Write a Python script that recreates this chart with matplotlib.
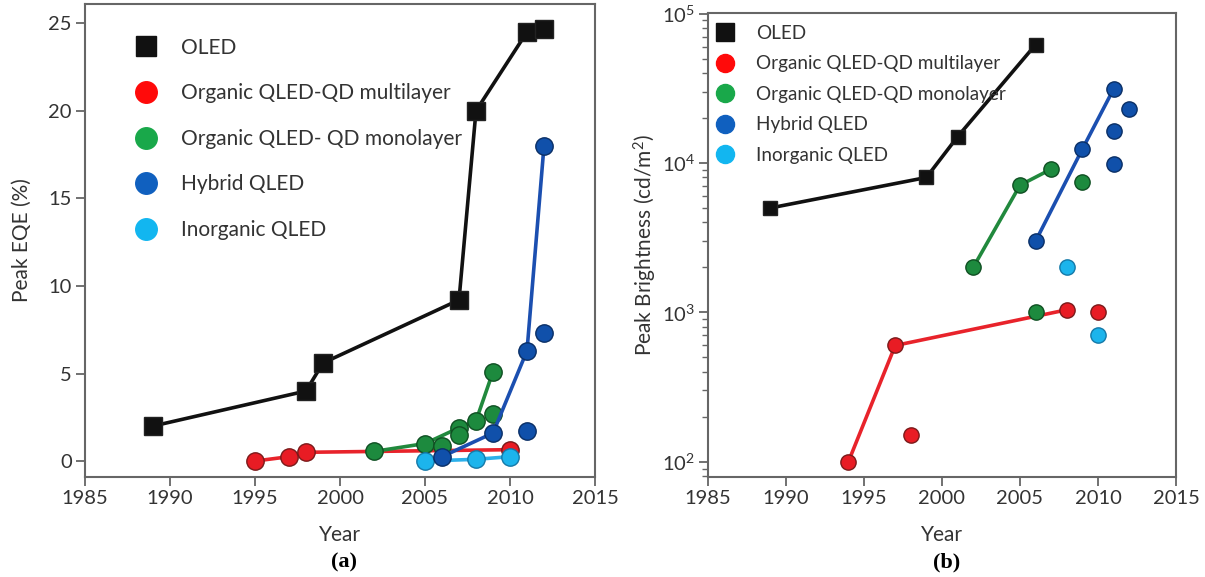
import matplotlib
matplotlib.use("Agg")
import matplotlib.pyplot as plt
from matplotlib.lines import Line2D
import numpy as np

plt.rcParams['font.family'] = ['Lato', 'DejaVu Sans']
plt.rcParams['mathtext.fontset'] = 'custom'
plt.rcParams['mathtext.rm'] = 'Lato'
plt.rcParams['mathtext.it'] = 'Lato:italic'
plt.rcParams['mathtext.bf'] = 'Lato:bold'

# ---------------- Panel (a): Peak EQE ----------------
a_oled_x = [1989, 1998, 1999, 2007, 2008, 2011, 2012]
a_oled_y = [2.0, 4.0, 5.6, 9.2, 20.0, 24.5, 24.7]

a_multi_x = [1995, 1997, 1998, 2010]
a_multi_y = [0.0, 0.25, 0.5, 0.65]

a_mono_line_x = [2002, 2005, 2007, 2008, 2009]
a_mono_line_y = [0.55, 1.0, 1.9, 2.3, 5.1]
a_mono_pts_x = [2006, 2007, 2009]
a_mono_pts_y = [0.85, 1.5, 2.7]

a_hyb_line_x = [2006, 2009, 2011, 2012]
a_hyb_line_y = [0.25, 1.6, 6.3, 18.0]
a_hyb_pts_x = [2011, 2012]
a_hyb_pts_y = [1.7, 7.3]

a_inorg_x = [2005, 2008, 2010]
a_inorg_y = [0.0, 0.1, 0.25]

# ---------------- Panel (b): Peak Brightness ----------------
b_oled_x = [1989, 1999, 2001, 2006]
b_oled_y = [5000, 8000, 15000, 62000]

b_multi_line_x = [1994, 1997, 2008]
b_multi_line_y = [100, 600, 1040]
b_multi_pts_x = [1998, 2010]
b_multi_pts_y = [150, 1000]

b_mono_line_x = [2002, 2005, 2007]
b_mono_line_y = [2000, 7100, 9100]
b_mono_pts_x = [2006, 2009]
b_mono_pts_y = [1000, 7500]

b_hyb_line_x = [2006, 2009, 2011]
b_hyb_line_y = [3000, 12400, 31300]
b_hyb_pts_x = [2011, 2011, 2012]
b_hyb_pts_y = [16400, 9850, 23000]

b_inorg_x = [2008, 2010]
b_inorg_y = [2000, 700]

legend_labels_a = ["OLED", "Organic QLED-QD multilayer", "Organic QLED- QD monolayer",
                   "Hybrid QLED", "Inorganic QLED"]
legend_labels_b = ["OLED", "Organic QLED-QD multilayer", "Organic QLED-QD monolayer",
                   "Hybrid QLED", "Inorganic QLED"]

# colours
BLK = '#111111'
RED_F, RED_E, RED_L = '#e81c24', '#7a1a1a', '#e8232b'
GRN_F, GRN_E, GRN_L = '#1d8a3e', '#0f4f22', '#21893d'
BLU_F, BLU_E, BLU_L = '#1050aa', '#0a2f66', '#1b4fb0'
CYN_F, CYN_E, CYN_L = '#1cb4ec', '#1479a8', '#2cb0ea'
LEG = [BLK, '#ff0a0a', '#19a84a', '#1060bf', '#12b6f0']

SPINE = '#666666'
TXT = '#333333'
TICK_FS = 14.5
LABEL_FS = 15

fig = plt.figure(figsize=(12.05, 5.77), dpi=100)
axa = fig.add_axes([85/1205, 1-477/577, 510/1205, 473/577])
axb = fig.add_axes([708/1205, 1-477/577, 468/1205, 464/577])


def style(ax):
    for s in ax.spines.values():
        s.set_color(SPINE)
        s.set_linewidth(1.5)
    ax.tick_params(axis='both', which='major', direction='out', length=6.5, width=1.3,
                   color=SPINE, labelcolor=TXT, labelsize=TICK_FS, pad=3)
    ax.tick_params(axis='y', which='minor', direction='out', length=4, width=1.0, color=SPINE)


def pts(ax, x, y, f, e, ms, lw=None, lc=None, z=3):
    if lc is not None:
        ax.plot(x, y, '-', color=lc, lw=lw, zorder=z, solid_capstyle='round')
    ax.plot(x, y, 'o', ls='none', mfc=f, mec=e, mew=1.0, ms=ms, zorder=z + 0.5)


# ---- panel a ----
msa = 12.5
axa.plot(a_oled_x, a_oled_y, '-', color=BLK, lw=2.6, zorder=3)
axa.plot(a_oled_x, a_oled_y, 's', ls='none', color=BLK, mec='#222222', ms=12.5, zorder=3.5)
pts(axa, a_multi_x, a_multi_y, RED_F, RED_E, msa, 2.6, RED_L, z=3)
pts(axa, a_mono_line_x, a_mono_line_y, GRN_F, GRN_E, msa, 2.6, GRN_L, z=4)
pts(axa, a_mono_pts_x, a_mono_pts_y, GRN_F, GRN_E, msa, z=4)
pts(axa, a_inorg_x, a_inorg_y, CYN_F, CYN_E, msa, 2.6, CYN_L, z=5)
pts(axa, a_hyb_line_x, a_hyb_line_y, BLU_F, BLU_E, msa, 2.6, BLU_L, z=6)
pts(axa, a_hyb_pts_x, a_hyb_pts_y, BLU_F, BLU_E, msa, z=6)

axa.set_xlim(1985, 2015)
axa.set_ylim(-0.91, 26.1)
axa.set_xticks([1985, 1990, 1995, 2000, 2005, 2010, 2015])
axa.set_yticks([0, 5, 10, 15, 20, 25])
style(axa)
axa.set_ylabel("Peak EQE (%)", fontsize=LABEL_FS, color=TXT, labelpad=12)
axa.set_xlabel("Year", fontsize=LABEL_FS, color=TXT, labelpad=13)

ha = [Line2D([], [], ls='none', marker='s', color=LEG[0], ms=14.5)] + \
     [Line2D([], [], ls='none', marker='o', color=c, ms=15.5) for c in LEG[1:]]
axa.legend(ha, legend_labels_a, loc='upper left', bbox_to_anchor=(0.0995, 0.929),
           frameon=False, borderpad=0, borderaxespad=0, handlelength=1.0,
           handletextpad=1.15, labelspacing=1.23, fontsize=15, labelcolor=TXT)

# ---- panel b ----
msb = 11
axb.set_yscale('log')
axb.plot(b_oled_x, b_oled_y, '-', color=BLK, lw=2.6, zorder=3)
axb.plot(b_oled_x, b_oled_y, 's', ls='none', color=BLK, mec='#222222', ms=10.5, zorder=3.5)
pts(axb, b_multi_line_x, b_multi_line_y, RED_F, RED_E, msb, 2.6, RED_L, z=3)
pts(axb, b_multi_pts_x, b_multi_pts_y, RED_F, RED_E, msb, z=3)
pts(axb, b_mono_line_x, b_mono_line_y, GRN_F, GRN_E, msb, 2.6, GRN_L, z=4)
pts(axb, b_mono_pts_x, b_mono_pts_y, GRN_F, GRN_E, msb, z=4)
pts(axb, b_hyb_line_x, b_hyb_line_y, BLU_F, BLU_E, msb, 2.6, BLU_L, z=5)
pts(axb, b_hyb_pts_x, b_hyb_pts_y, BLU_F, BLU_E, msb, z=5)
pts(axb, b_inorg_x, b_inorg_y, CYN_F, CYN_E, msb, z=5)

axb.set_xlim(1985, 2015)
axb.set_ylim(79, 1.01e5)
axb.set_xticks([1985, 1990, 1995, 2000, 2005, 2010, 2015])
style(axb)
axb.set_ylabel("Peak Brightness (cd/m$^2$)", fontsize=LABEL_FS, color=TXT, labelpad=2)
axb.set_xlabel("Year", fontsize=LABEL_FS, color=TXT, labelpad=13)

hb = [Line2D([], [], ls='none', marker='s', color=LEG[0], ms=13)] + \
     [Line2D([], [], ls='none', marker='o', color=c, ms=13) for c in LEG[1:]]
axb.legend(hb, legend_labels_b, loc='upper left', bbox_to_anchor=(0.0154, 0.975),
           frameon=False, borderpad=0, borderaxespad=0, handlelength=1.0,
           handletextpad=1.15, labelspacing=0.72, fontsize=13.6, labelcolor=TXT)

fig.text(344/1205, 1-562/577, "(a)", ha='center', va='center', fontsize=16,
         fontweight='bold', family='Liberation Serif', color='black')
fig.text(947/1205, 1-562/577, "(b)", ha='center', va='center', fontsize=16,
         fontweight='bold', family='Liberation Serif', color='black')

fig.savefig("out.png", dpi=100)
